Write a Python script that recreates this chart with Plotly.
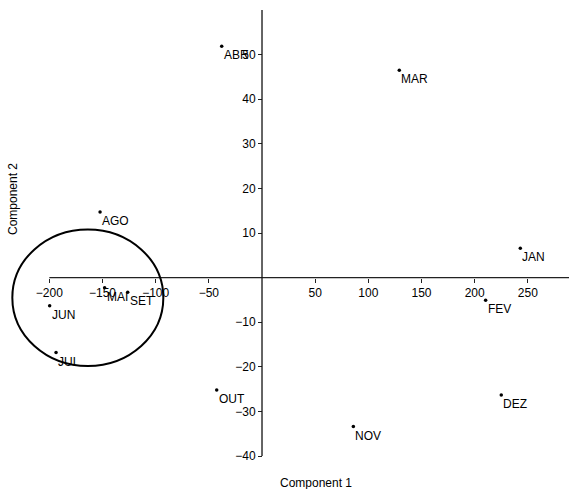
import plotly.graph_objects as go

# Monthly scores on the first two principal components
months = ["JAN", "FEV", "MAR", "ABR", "MAI", "JUN", "JUL", "AGO", "SET", "OUT", "NOV", "DEZ"]
comp1 = [242.9, 210.3, 129.1, -37.9, -148.0, -199.7, -193.7, -152.3, -126.3, -42.6, 85.9, 225.0]
comp2 = [6.6, -5.1, 46.5, 51.9, -2.3, -6.3, -16.8, 14.7, -3.3, -25.2, -33.4, -26.3]

x_ticks = [-200, -150, -100, -50, 50, 100, 150, 200, 250]
y_ticks = [-40, -30, -20, -10, 10, 20, 30, 40, 50]

# Ellipse grouping the summer months (centre and half-axes in data units)
group_center = (-163.8, -4.5)
group_radius = (71.0, 15.3)

XMIN, XMAX = -246.4, 288.7
YMIN, YMAX = -40, 60
W, H = 569, 489
M_TOP, M_BOT = 10, 33
FONT = "Liberation Sans, Arial, sans-serif"
TEXT = dict(family=FONT, size=12, color="black")


def paper_y(px):
    """Convert a pixel row of the figure into a paper y coordinate."""
    return (H - M_BOT - px) / (H - M_TOP - M_BOT)


fig = go.Figure()
fig.add_trace(go.Scatter(
    x=comp1, y=comp2, mode="markers",
    marker=dict(size=3.5, color="black"),
    hoverinfo="text", text=months, showlegend=False,
))

for m, cx, cy in zip(months, comp1, comp2):
    fig.add_annotation(
        x=cx, y=cy, text=m, showarrow=False,
        xanchor="left", yanchor="top", xshift=0, yshift=0,
        font=TEXT,
    )

# Axis lines crossing at the origin
fig.add_shape(type="line", x0=x_ticks[0], x1=XMAX, y0=0, y1=0,
              line=dict(color="#222", width=1.3), layer="above")
fig.add_shape(type="line", x0=0, x1=0, y0=YMIN, y1=YMAX,
              line=dict(color="#111", width=1.3), layer="above")

fig.add_shape(type="circle",
              x0=group_center[0] - group_radius[0], x1=group_center[0] + group_radius[0],
              y0=group_center[1] - group_radius[1], y1=group_center[1] + group_radius[1],
              line=dict(color="black", width=2))

fig.add_annotation(xref="paper", yref="paper", x=316 / W, y=paper_y(482.5),
                   xanchor="center", yanchor="middle",
                   text="Component 1", showarrow=False, font=TEXT)
fig.add_annotation(xref="paper", yref="paper", x=13 / W, y=paper_y(199),
                   xanchor="center", yanchor="middle",
                   text="Component 2", textangle=-90, showarrow=False, font=TEXT)

fig.update_layout(
    width=W, height=H,
    margin=dict(l=0, r=0, t=M_TOP, b=M_BOT),
    plot_bgcolor="white", paper_bgcolor="white",
    xaxis=dict(range=[XMIN, XMAX], anchor="free",
               position=(0 - YMIN) / (YMAX - YMIN),
               tickvals=x_ticks, ticks="outside", ticklen=4, tickwidth=1, tickcolor="#222",
               showgrid=False, zeroline=False, showline=False,
               tickfont=TEXT),
    yaxis=dict(range=[YMIN, YMAX], anchor="free",
               position=(0 - XMIN) / (XMAX - XMIN),
               tickvals=y_ticks, ticks="outside", ticklen=4, tickwidth=1, tickcolor="#222",
               showgrid=False, zeroline=False, showline=False,
               tickfont=TEXT),
)

fig.write_html("out.html")
